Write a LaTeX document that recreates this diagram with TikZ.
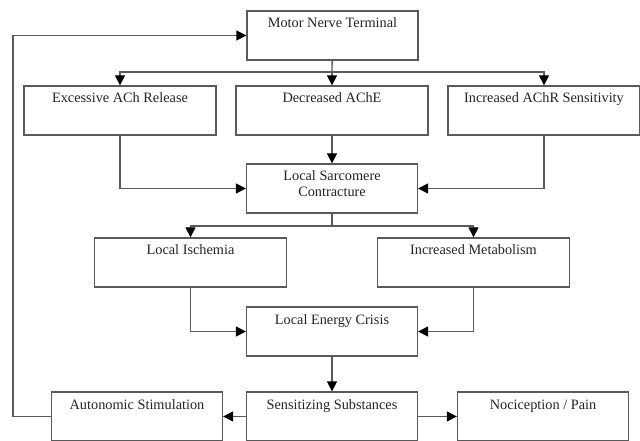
\documentclass[tikz,border=0pt]{standalone}
\usepackage{fontspec}
\setmainfont{Liberation Serif}
\usetikzlibrary{arrows.meta, positioning}
\definecolor{framegray}{RGB}{90,90,90}
\definecolor{inkgray}{RGB}{35,35,35}

\begin{document}
\begin{tikzpicture}[x=1bp, y=-1bp,
  box/.style={draw=framegray, line width=1.3bp, minimum width=171bp, minimum height=49bp,
    inner sep=0pt, text height=17bp, text depth=32bp, align=center, text=inkgray,
    font=\fontsize{14.3bp}{16bp}\selectfont},
  widebox/.style={box, minimum width=192bp},
  twoline/.style={box, text height=33bp, text depth=16bp},
  link/.style={draw=framegray, line width=1.3bp},
  arr/.style={link, -{Triangle[length=10bp,width=10bp,color=black]}}]
  \useasboundingbox (0,0) rectangle (640,441);

  % boxes, top to bottom
  \node[box] (motor) at (332.5,35.5) {Motor Nerve Terminal};
  \node[widebox] (excess) at (120,110.5) {Excessive ACh Release};
  \node[widebox] (dec) at (332,110.5) {Decreased AChE};
  \node[widebox] (incr) at (544,110.5) {Increased AChR Sensitivity};
  \node[twoline] (sarc) at (332,188.5) {Local Sarcomere\\Contracture};
  \node[widebox] (isch) at (190.5,262.5) {Local Ischemia};
  \node[widebox] (meta) at (473.5,262.5) {Increased Metabolism};
  \node[box] (energy) at (332,331.5) {Local Energy Crisis};
  \node[box] (auton) at (137,416.5) {Autonomic Stimulation};
  \node[box] (sens) at (332,416.5) {Sensitizing Substances};
  \node[box] (noci) at (543,416.5) {Nociception / Pain};

  \coordinate (split1) at (332,72);
  \coordinate (split2) at (332,226);
  \coordinate (back) at (13,35.5);

  % arrows
  \draw[link] (motor) -- (split1);
  \draw[arr] (split1) -| (excess);
  \draw[arr] (split1) -- (dec);
  \draw[arr] (split1) -| (incr);
  \draw[arr] (excess) |- (sarc);
  \draw[arr] (dec) -- (sarc);
  \draw[arr] (incr) |- (sarc);
  \draw[link] (sarc) -- (split2);
  \draw[arr] (split2) -| (isch);
  \draw[arr] (split2) -| (meta);
  \draw[arr] (isch) |- (energy);
  \draw[arr] (meta) |- (energy);
  \draw[arr] (energy) -- (sens);
  \draw[arr] (sens) -- (auton);
  \draw[arr] (sens) -- (noci);
  \draw[arr] (auton.west) -| (back) -- (motor);
\end{tikzpicture}
\end{document}
